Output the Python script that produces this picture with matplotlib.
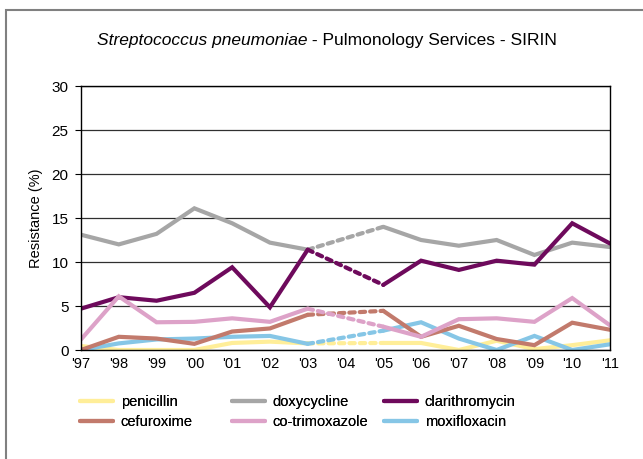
import numpy as np
import matplotlib.pyplot as plt
from matplotlib.patches import Rectangle

plt.rcParams['font.family'] = ['Liberation Sans', 'DejaVu Sans']

years = ["'97", "'98", "'99", "'00", "'01", "'02", "'03", "'04",
         "'05", "'06", "'07", "'08", "'09", "'10", "'11"]
nan = np.nan

# resistance (%) per year, no data for 2004
penicillin = [0.45, 0.0, 0.0, 0.0, 0.8, 0.95, 0.75, nan, 0.8, 0.8, 0.0, 1.05, 0.1, 0.55, 1.1]
doxycycline = [13.1, 12.0, 13.2, 16.1, 14.4, 12.2, 11.4, nan, 14.0, 12.5, 11.85, 12.5, 10.8, 12.2, 11.7]
clarithromycin = [4.7, 6.0, 5.6, 6.5, 9.4, 4.85, 11.4, nan, 7.4, 10.15, 9.1, 10.15, 9.7, 14.4, 12.1]
cefuroxime = [0.0, 1.5, 1.3, 0.7, 2.1, 2.45, 4.0, nan, 4.45, 1.5, 2.75, 1.25, 0.55, 3.1, 2.3]
cotrimoxazole = [1.2, 6.1, 3.15, 3.2, 3.6, 3.2, 4.7, nan, 2.65, 1.5, 3.5, 3.6, 3.2, 5.9, 2.8]
moxifloxacin = [0.0, 0.75, 1.2, 1.3, 1.5, 1.6, 0.7, nan, 2.2, 3.15, 1.3, 0.0, 1.6, 0.0, 0.65]

series = [
    ("penicillin", penicillin, "#FFEE99"),
    ("doxycycline", doxycycline, "#A6A6A6"),
    ("clarithromycin", clarithromycin, "#6E0A5C"),
    ("moxifloxacin", moxifloxacin, "#86C6E6"),
    ("cefuroxime", cefuroxime, "#C27A6C"),
    ("co-trimoxazole", cotrimoxazole, "#DDA2C8"),
]

fig = plt.figure(figsize=(6.43, 4.59), dpi=100)
fig.patches.append(Rectangle((6 / 643, -0.1), 1.2, (459 - 10) / 459 + 0.1,
                             transform=fig.transFigure, fill=False,
                             edgecolor="#808080", linewidth=1.5))
ax = fig.add_axes([81 / 643, 109 / 459, 529 / 643, 264 / 459])

x = np.arange(len(years))
gap = years.index("'04")
handles = {}
for name, vals, color in series:
    vals = np.array(vals, dtype=float)
    ln, = ax.plot(x, vals, color=color, lw=3.0, solid_capstyle="round",
                  solid_joinstyle="miter", label=name)
    # dashed link across the missing year
    ax.plot([gap - 1, gap + 1], [vals[gap - 1], vals[gap + 1]], color=color,
            lw=3.0, linestyle=(0, (1.3, 1.2)), dash_capstyle="round")
    handles[name] = ln

ax.set_xlim(0, len(years) - 1)
ax.set_ylim(0, 30)
ax.set_yticks(range(0, 31, 5))
ax.set_xticks(x)
ax.set_xticklabels(years)
ax.tick_params(axis="x", length=0, pad=5, labelsize=10.5)
ax.tick_params(axis="y", length=4, width=0.8, pad=5, labelsize=11)
ax.yaxis.grid(True, color="#303030", linewidth=0.9)
ax.set_axisbelow(True)
for s in ax.spines.values():
    s.set_linewidth(1.0)
    s.set_color("black")
ax.set_ylabel("Resistance (%)", fontsize=10.5, labelpad=6)

# title, species name in italics
title_y = 1 - 40 / 459
t1 = fig.text(0.0, title_y, "Streptococcus pneumoniae", style="italic",
              fontsize=12.5, va="center")
t2 = fig.text(0.0, title_y, " - Pulmonology Services - SIRIN", fontsize=12.5,
              va="center")
fig.canvas.draw()
r = fig.canvas.get_renderer()
w1 = t1.get_window_extent(r).width
w2 = t2.get_window_extent(r).width
start = 327 - (w1 + w2) / 2
t1.set_x(start / 643)
t2.set_x((start + w1) / 643)

# legend laid out as three fixed-width columns
columns = [["penicillin", "cefuroxime"],
           ["doxycycline", "co-trimoxazole"],
           ["clarithromycin", "moxifloxacin"]]
for i, names in enumerate(columns):
    leg = fig.legend([handles[n] for n in names], names, frameon=False,
                     loc="upper left",
                     bbox_to_anchor=((74 + 152 * i) / 643, 1 - 389 / 459),
                     fontsize=10.5, handlelength=2.3, labelspacing=0.45,
                     handletextpad=0.5, borderaxespad=0)
    fig.add_artist(leg)

fig.savefig("out.png", dpi=100)
